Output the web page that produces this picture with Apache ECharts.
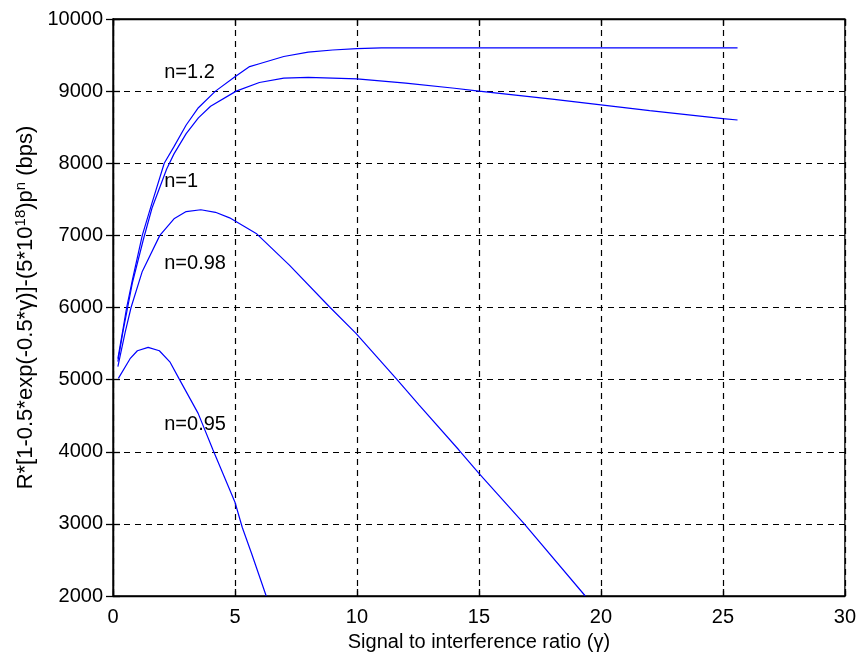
<!DOCTYPE html>
<html>
<head>
<meta charset="utf-8">
<script src="https://cdn.jsdelivr.net/npm/echarts@6/dist/echarts.min.js"></script>
<style>html,body{margin:0;padding:0;background:#fff}#c{width:859px;height:661px}</style>
</head>
<body>
<div id="c"></div>
<script>
// x-ticks and y-ticks
const xTicks = [0, 5, 10, 15, 20, 25, 30];
const yTicks = [2000, 3000, 4000, 5000, 6000, 7000, 8000, 9000, 10000];

// n = 1.2 (top curve)
const xN12 = [0.2, 0.4, 0.56, 0.8, 1.2, 1.6, 2.1, 2.5, 3.0, 3.5, 4.2, 5.0, 5.6, 6.0, 7.0, 8.0, 9.0, 10.0, 11.0, 15.0, 20.0, 25.6];
const yN12 = [5290, 5680, 6000, 6390, 7000, 7450, 8000, 8230, 8530, 8770, 9000, 9200, 9340, 9380, 9480, 9540, 9570, 9590, 9600, 9600, 9600, 9600];

// n = 1
const xN1 = [0.2, 0.4, 0.6, 0.8, 1.25, 1.6, 2.2, 2.5, 3.0, 3.5, 4.0, 5.05, 6.0, 7.0, 8.0, 10.0, 12.0, 14.0, 15.0, 18.0, 20.0, 22.0, 25.0, 25.6];
const yN1 = [5250, 5650, 6000, 6350, 6950, 7380, 7920, 8130, 8410, 8630, 8790, 9000, 9120, 9180, 9190, 9170, 9110, 9040, 9000, 8890, 8810, 8730, 8620, 8600];

// n = 0.98
const xN098 = [0.2, 0.5, 0.74, 1.2, 1.92, 2.5, 3.0, 3.6, 4.2, 4.78, 5.87, 7.23, 8.87, 9.96, 11.6, 12.55, 14.18, 15.0, 16.84, 19.36];
const yN098 = [5180, 5660, 6000, 6500, 7000, 7230, 7330, 7355, 7320, 7243, 7027, 6588, 6010, 5641, 5017, 4647, 4024, 3700, 3008, 2000];

// n = 0.95
const xN095 = [0.22, 0.7, 1.0, 1.44, 1.9, 2.33, 2.7, 3.49, 4.1, 5.0, 5.3, 5.67, 6.28];
const yN095 = [5017, 5290, 5400, 5447, 5400, 5247, 5017, 4532, 4024, 3300, 2950, 2600, 2000];

// curve labels
const labelTexts = ['n=1.2', 'n=1', 'n=0.98', 'n=0.95'];
const labelX = [2.1, 2.1, 2.1, 2.1];
const labelY = [9263, 7752, 6615, 4384];

const zip = (xs, ys) => xs.map((x, i) => [x, ys[i]]);
const FONT = 'Liberation Sans, Arial, Helvetica, sans-serif';
const blue = '#0000ff';

const lineSeries = (xs, ys) => ({
  type: 'line', data: zip(xs, ys), showSymbol: false, symbol: 'none',
  lineStyle: { color: blue, width: 1.2 }, silent: true, clip: true
});

const chart = echarts.init(document.getElementById('c'), null, { renderer: 'canvas' });
const axCommon = {
  axisLine: { show: true, lineStyle: { color: '#000', width: 1.3 } },
  axisTick: { show: true, inside: true, length: 7, lineStyle: { color: '#000', width: 1.3 } },
  splitLine: { show: false }
};
chart.setOption({
  animation: false,
  backgroundColor: '#fff',
  grid: { left: 113, right: 11, top: 19, bottom: 65, show: true, borderColor: '#000', borderWidth: 1.3, backgroundColor: 'transparent' },
  xAxis: [
    Object.assign({}, axCommon, {
      type: 'value', min: 0, max: 30, interval: 5, position: 'bottom',
      axisLabel: { color: '#000', fontSize: 20, fontFamily: FONT, margin: 11, formatter: v => String(v) },
      splitLine: { show: true, lineStyle: { color: '#000', type: [6, 5], width: 1.2 } },
      name: 'Signal to interference ratio (\u03b3)', nameLocation: 'middle', nameGap: 36,
      nameTextStyle: { color: '#000', fontSize: 20, fontFamily: FONT }
    }),
    Object.assign({}, axCommon, {
      type: 'value', min: 0, max: 30, interval: 5, position: 'top', axisLabel: { show: false }
    })
  ],
  yAxis: [
    Object.assign({}, axCommon, {
      type: 'value', min: 2000, max: 10000, interval: 1000, position: 'left',
      axisLabel: { color: '#000', fontSize: 20, fontFamily: FONT, margin: 10, formatter: v => String(v) },
      splitLine: { show: true, lineStyle: { color: '#000', type: [6, 5], width: 1.2 } },
      name: 'R*[1-0.5*exp(-0.5*\u03b3)]-(5*10{sup|18})p{sup|n} (bps)', nameLocation: 'middle', nameGap: 74, nameRotate: 90,
      nameTextStyle: { color: '#000', fontSize: 22, fontFamily: FONT,
        rich: { sup: { fontSize: 15, fontFamily: FONT, color: '#000', verticalAlign: 'top', padding: [0, 0, 10, 0] } } }
    }),
    Object.assign({}, axCommon, {
      type: 'value', min: 2000, max: 10000, interval: 1000, position: 'right', axisLabel: { show: false }
    })
  ],
  series: [
    lineSeries(xN12, yN12),
    lineSeries(xN1, yN1),
    lineSeries(xN098, yN098),
    lineSeries(xN095, yN095),
    {
      type: 'scatter', symbolSize: 0, silent: true,
      itemStyle: { opacity: 1 },
      data: labelTexts.map((t, i) => ({ value: [labelX[i], labelY[i]], name: t })),
      label: { show: true, position: 'right', distance: 0, formatter: p => p.name,
        color: '#000', opacity: 1, fontSize: 20, fontFamily: FONT }
    }
  ]
});
</script>
</body>
</html>
